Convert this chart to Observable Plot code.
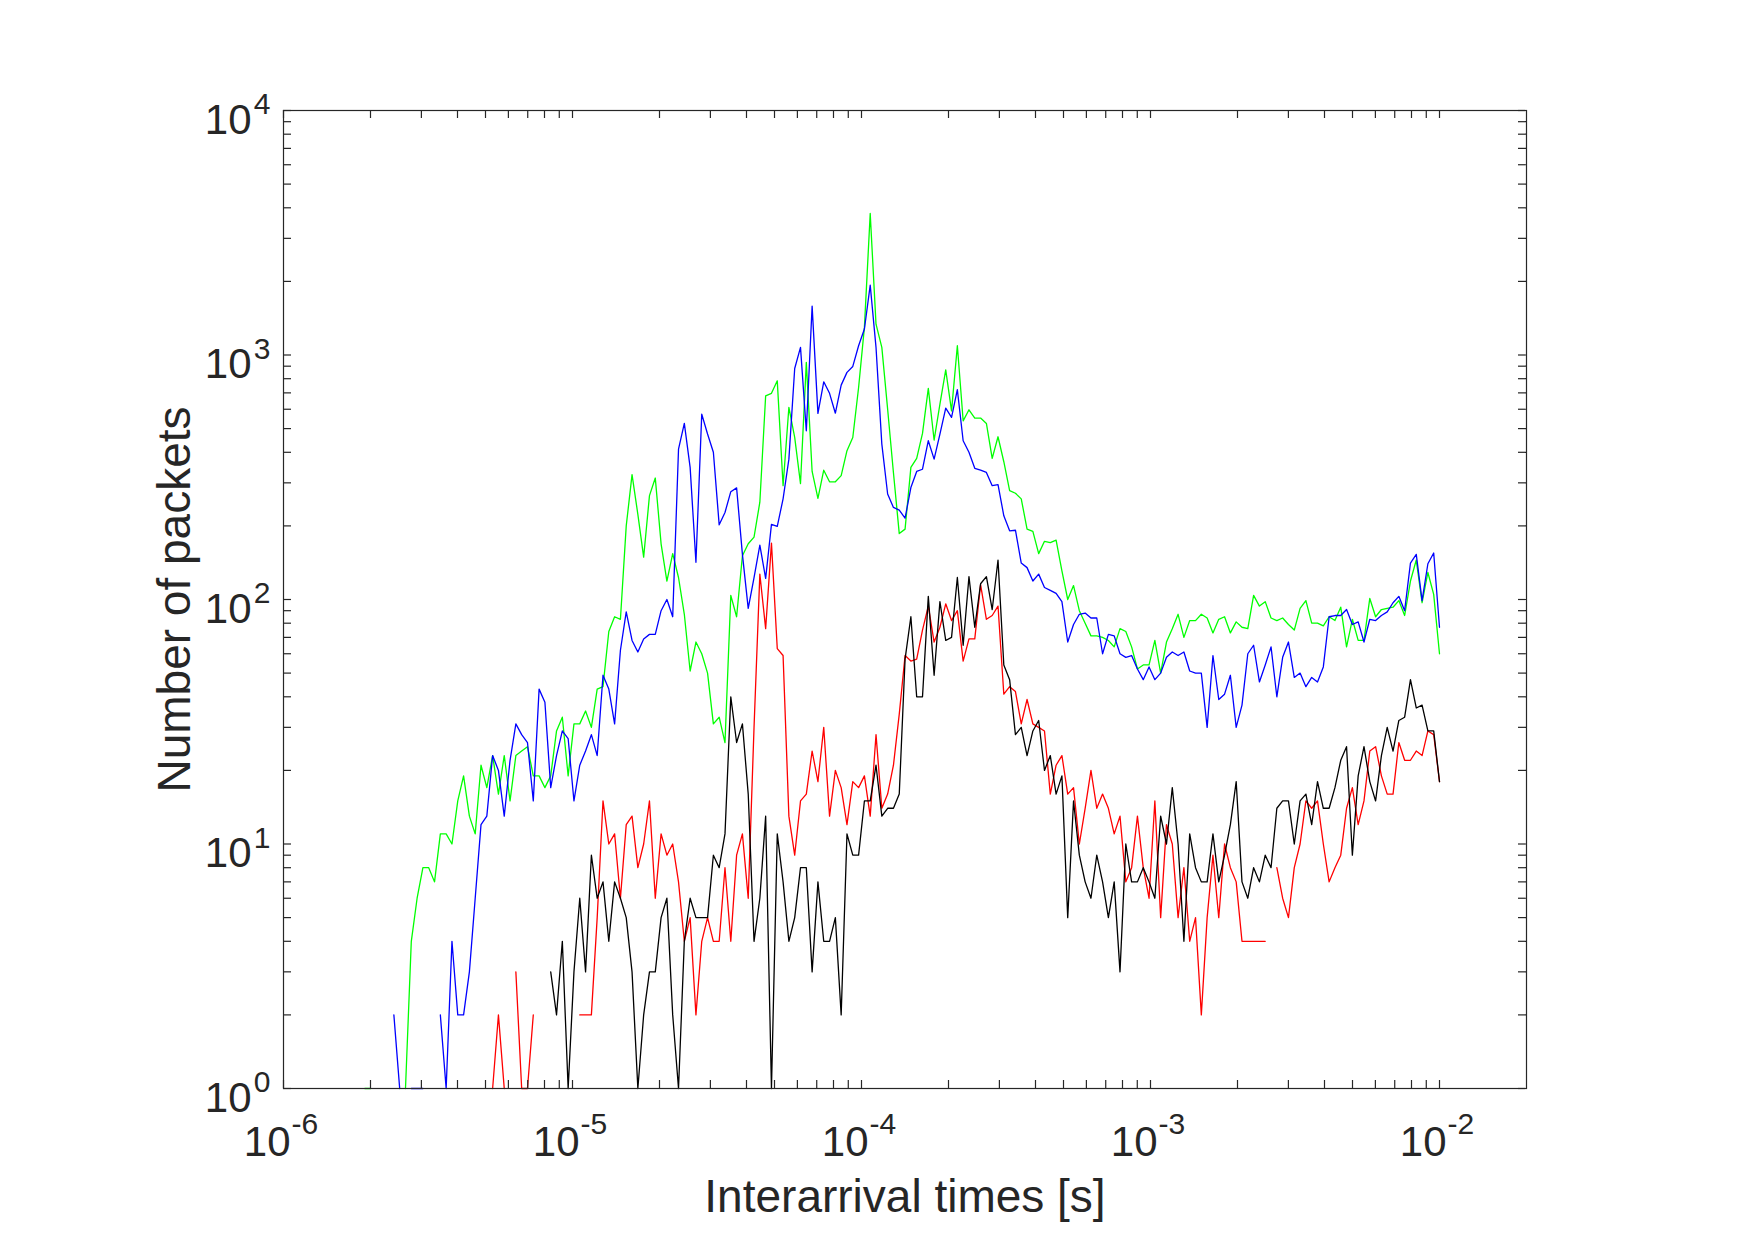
<!DOCTYPE html>
<html>
<head>
<meta charset="utf-8">
<script src="https://cdn.jsdelivr.net/npm/d3@7"></script>
<script src="https://cdn.jsdelivr.net/npm/@observablehq/plot@0.6"></script>
<style>
  html, body { margin: 0; padding: 0; background: #ffffff; }
  #chart svg { display: block; }
</style>
</head>
<body>
<div id="chart"></div>
<script>
// ---- bins: logarithmically spaced interarrival-time bins ----
const binFirstExponent = -6;
const binLastExponent = -2;
const binCount = 200;

// ---- series values (packet counts per bin; 0 = empty bin) ----
const green = [
  0,0,0,0,0,0,0,0,0,0,
  0,0,0,0,1,1,0,0,0,0,
  0,1,4,6,8,8,7,11,11,10,
  15,19,13,11,21,17,23,16,23,15,
  23,24,25,19,19,17,19,29,33,19,
  31,31,35,30,43,44,74,85,83,200,
  324,223,149,266,314,169,119,154,123,87,
  51,67,60,50,31,33,26,104,85,151,
  169,180,250,681,697,784,292,611,460,298,
  933,334,259,338,303,303,321,406,460,736,
  1297,3790,1337,1074,600,330,186,194,347,378,
  478,730,449,630,870,591,1091,538,597,552,
  552,525,378,463,366,279,272,258,194,190,
  154,173,171,175,131,100,114,90,80,71,
  71,70,68,64,76,74,64,52,54,54,
  68,50,67,76,87,70,82,82,87,84,
  73,83,85,73,81,77,76,104,94,98,
  84,82,84,79,75,92,99,80,80,78,
  85,82,93,64,83,68,68,101,85,91,
  92,93,99,86,119,145,97,129,105,60
];
const blue = [
  0,0,0,0,0,0,0,0,0,0,
  0,0,0,0,0,0,0,0,0,2,
  1,0,1,1,1,0,0,2,1,4,
  2,2,3,6,12,13,23,20,13,22,
  31,28,26,15,43,38,17,23,29,27,
  15,21,24,28,23,49,43,31,62,89,
  68,61,69,72,72,90,100,85,412,525,
  347,142,573,475,400,202,227,276,286,153,
  92,123,167,122,203,199,258,375,881,1074,
  490,1585,577,777,697,578,753,849,898,1091,
  1277,1931,1074,432,270,238,232,215,287,334,
  341,446,375,475,606,556,721,446,400,344,
  338,331,292,295,220,191,192,141,135,119,
  127,112,109,106,98,67,79,87,88,84,
  84,60,72,71,60,58,59,52,47,53,
  47,50,58,61,59,61,51,50,50,30,
  59,39,41,49,30,37,60,65,46,54,
  64,40,58,67,48,50,44,48,46,53,
  85,86,86,91,79,81,67,83,82,86,
  89,97,103,90,141,153,99,140,155,77
];
const red = [
  0,0,0,0,0,0,0,0,0,0,
  0,0,0,0,0,0,0,0,0,0,
  0,0,0,0,0,0,0,0,0,0,
  0,0,0,0,0,0,1,2,1,0,
  3,1,1,2,0,0,0,0,0,0,
  0,2,2,2,5,15,10,11,6,12,
  13,8,10,15,6,11,9,10,7,4,
  5,2,4,5,4,4,8,4,9,11,
  6,30,127,76,170,63,59,13,9,15,
  16,24,18,30,13,20,17,12,18,17,
  19,13,28,14,16,21,34,59,56,57,
  75,94,67,77,96,82,90,56,69,69,
  115,83,86,94,41,44,42,31,39,31,
  30,29,16,21,23,16,17,10,14,20,
  14,16,14,11,13,7,8,13,8,6,
  15,5,12,10,5,8,4,5,2,5,
  9,5,10,8,7,4,4,4,4,4,
  0,8,6,5,8,10,15,14,15,10,
  7,8,9,14,17,12,15,24,25,19,
  16,16,26,22,22,24,23,29,28,18
];
const black = [
  0,0,0,0,0,0,0,0,0,0,
  0,0,0,0,0,0,0,0,0,0,
  0,0,0,0,0,0,0,0,0,0,
  0,0,0,0,0,0,0,0,0,0,
  0,0,0,0,0,0,3,2,4,1,
  3,6,3,9,6,7,4,7,6,5,
  3,1,2,3,3,5,6,2,1,4,
  6,5,5,5,9,8,11,40,26,31,
  16,4,6,13,1,11,7,4,5,8,
  8,3,7,4,4,5,2,11,9,9,
  15,15,21,13,14,14,16,57,85,40,
  40,103,49,98,68,70,123,65,124,77,
  116,124,91,145,54,47,28,30,23,29,
  32,20,23,16,19,5,15,9,7,6,
  9,7,5,7,3,10,7,7,8,7,
  6,13,10,17,10,4,11,8,7,7,
  11,7,9,12,18,7,6,8,7,9,
  8,14,15,15,10,15,16,12,18,14,
  14,17,22,25,9,19,25,18,15,23,
  30,24,32,33,47,36,37,29,29,18
];

// ---- tick labels ----
const xMajorTicks = [1e-6, 1e-5, 1e-4, 1e-3, 1e-2];
const xTickExponents = ["-6", "-5", "-4", "-3", "-2"];
const yMajorTicks = [1, 10, 100, 1000, 10000];
const yTickExponents = ["0", "1", "2", "3", "4"];
const tickBase = "10";
const xLabel = "Interarrival times [s]";
const yLabel = "Number of packets";

// ---- build tables from the arrays ----
const bins = d3.range(binCount).map(i =>
  Math.pow(10, binFirstExponent + (binLastExponent - binFirstExponent) * i / (binCount - 1)));
const toRows = values => values.map((v, i) => ({x: bins[i], y: v > 0 ? v : null}));

const xDomain = [1e-6, 0.02];
const yDomain = [1, 1e4];
const minorFrom = (majors, limit) => majors.flatMap(m => d3.range(2, 10).map(k => k * m)).filter(v => v < limit);
const xAllTicks = xMajorTicks.concat(minorFrom(xMajorTicks, xDomain[1]));
const yAllTicks = yMajorTicks.concat(minorFrom(yMajorTicks, yDomain[1]));

const W = 1755, H = 1240;
const mL = 283, mR = 229, mT = 110, mB = 152;
const frameW = W - mL - mR, frameH = H - mT - mB;
const tickLen = 8;
const axisColor = "#262626";

const chart = Plot.plot({
  width: W,
  height: H,
  marginLeft: mL,
  marginRight: mR,
  marginTop: mT,
  marginBottom: mB,
  style: {fontFamily: "'Liberation Sans', Arial, Helvetica, sans-serif", background: "#ffffff"},
  x: {type: "log", domain: xDomain, axis: null},
  y: {type: "log", domain: yDomain, axis: null},
  marks: [
    // data lines
    Plot.line(toRows(green), {x: "x", y: "y", stroke: "#00ff00", strokeWidth: 1.3}),
    Plot.line(toRows(blue), {x: "x", y: "y", stroke: "#0000ff", strokeWidth: 1.3}),
    Plot.line(toRows(red), {x: "x", y: "y", stroke: "#ff0000", strokeWidth: 1.3}),
    Plot.line(toRows(black), {x: "x", y: "y", stroke: "#000000", strokeWidth: 1.3}),
    // box
    Plot.frame({stroke: axisColor, strokeWidth: 1.2}),
    // inward ticks on all four sides
    Plot.tickX(xAllTicks, {x: d => d, insetTop: frameH - tickLen, stroke: axisColor, strokeWidth: 1.2}),
    Plot.tickX(xAllTicks, {x: d => d, insetBottom: frameH - tickLen, stroke: axisColor, strokeWidth: 1.2}),
    Plot.tickY(yAllTicks, {y: d => d, insetRight: frameW - tickLen, stroke: axisColor, strokeWidth: 1.2}),
    Plot.tickY(yAllTicks, {y: d => d, insetLeft: frameW - tickLen, stroke: axisColor, strokeWidth: 1.2}),
    // x tick labels 10^e
    Plot.text(xMajorTicks, {x: d => d, frameAnchor: "bottom", text: () => tickBase, textAnchor: "end",
      dx: 7, dy: 67, fontSize: 42, fill: axisColor}),
    Plot.text(xMajorTicks, {x: d => d, frameAnchor: "bottom", text: (d, i) => xTickExponents[i], textAnchor: "start",
      dx: 8, dy: 45, fontSize: 30, fill: axisColor}),
    // y tick labels 10^e
    Plot.text(yMajorTicks, {y: d => d, frameAnchor: "left", text: () => tickBase, textAnchor: "end",
      dx: -32, dy: 10, fontSize: 42, fill: axisColor}),
    Plot.text(yMajorTicks, {y: d => d, frameAnchor: "left", text: (d, i) => yTickExponents[i], textAnchor: "end",
      dx: -13, dy: -6, fontSize: 30, fill: axisColor}),
    // axis titles
    Plot.text([xLabel], {frameAnchor: "bottom", textAnchor: "middle", text: d => d, dy: 123, fontSize: 46, fill: axisColor}),
    Plot.text([yLabel], {frameAnchor: "left", textAnchor: "middle", text: d => d, rotate: -90, dx: -108, fontSize: 46, fill: axisColor})
  ]
});
document.getElementById("chart").appendChild(chart);
</script>
</body>
</html>
